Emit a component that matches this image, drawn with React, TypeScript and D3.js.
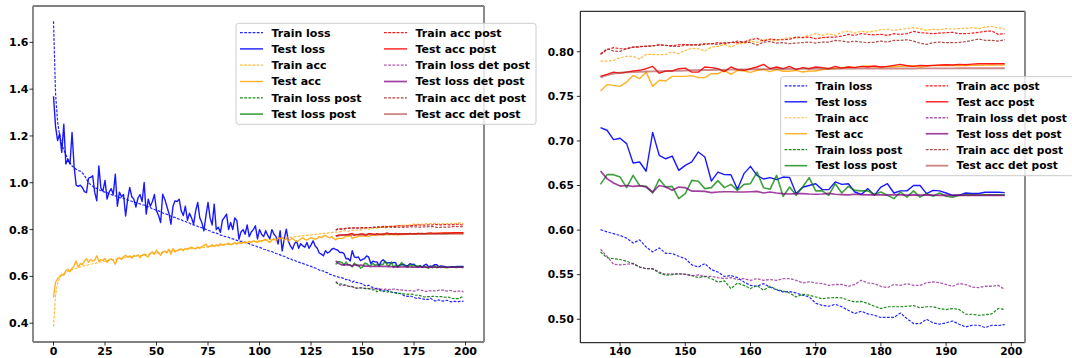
import React from 'react';
import * as d3 from 'd3';

const FONT = "'DejaVu Sans', Verdana, sans-serif";

// ---------- data (epochs 0..136, 137..199 from right panel) ----------
const trainLossEarly = [1.69, 1.38, 1.26, 1.2, 1.165, 1.14, 1.12, 1.1, 1.085, 1.072, 1.065, 1.058, 1.052, 1.05, 1.042, 1.032, 1.016, 1.001, 0.992, 0.986,
  0.978, 0.976, 0.97, 0.967, 0.962, 0.96, 0.958, 0.952, 0.95, 0.946, 0.944, 0.942, 0.936, 0.935, 0.934, 0.929, 0.927, 0.923, 0.921, 0.917,
  0.915, 0.913, 0.91, 0.905, 0.905, 0.9, 0.897, 0.894, 0.888, 0.886, 0.882, 0.88, 0.876, 0.871, 0.869, 0.865, 0.863, 0.857, 0.853, 0.852,
  0.848, 0.844, 0.842, 0.837, 0.835, 0.83, 0.828, 0.822, 0.82, 0.818, 0.813, 0.81, 0.808, 0.803, 0.801, 0.797, 0.794, 0.789, 0.787, 0.785,
  0.781, 0.776, 0.775, 0.771, 0.768, 0.767, 0.762, 0.76, 0.758, 0.754, 0.752, 0.75, 0.749, 0.745, 0.742, 0.74, 0.735, 0.733, 0.731, 0.726,
  0.724, 0.721, 0.716, 0.715, 0.711, 0.707, 0.706, 0.701, 0.698, 0.696, 0.692, 0.687, 0.686, 0.682, 0.677, 0.676, 0.67, 0.669, 0.664, 0.661,
  0.658, 0.656, 0.651, 0.649, 0.645, 0.643, 0.638, 0.636, 0.632, 0.627, 0.625, 0.623, 0.617, 0.616, 0.61, 0.607, 0.603];
const trainLossLate = [0.6006, 0.598, 0.596, 0.594, 0.591, 0.5855, 0.589, 0.581, 0.5755, 0.58, 0.574, 0.5737, 0.5706, 0.568, 0.561, 0.5586,
  0.5624, 0.5557, 0.553, 0.548, 0.549, 0.5467, 0.5418, 0.538, 0.537, 0.54, 0.536, 0.533, 0.5306, 0.531, 0.5295, 0.527, 0.525, 0.518,
  0.5155, 0.5146, 0.5168, 0.514, 0.51, 0.5064, 0.509, 0.506, 0.5045, 0.502, 0.502, 0.502, 0.507, 0.5007, 0.4952, 0.495, 0.5, 0.496,
  0.4944, 0.496, 0.498, 0.4944, 0.4914, 0.4933, 0.4933, 0.4906, 0.4933, 0.493, 0.494];

const testLossEarly = [1.37, 1.24, 1.18, 1.21, 1.13, 1.25, 1.08, 1.1, 1.08, 1.215, 1.07, 0.99, 0.985, 0.99, 0.98, 0.962, 0.958, 1.02, 1.023, 1.03,
  0.96, 0.923, 1.072, 0.977, 0.965, 1.01, 0.93, 0.96, 0.975, 0.95, 1.037, 0.9, 0.96, 0.94, 0.95, 0.858, 0.93, 0.98, 0.94, 0.93,
  0.896, 0.935, 0.95, 0.92, 1.001, 0.866, 0.93, 0.9, 0.92, 0.95, 0.88, 0.86, 0.83, 0.951, 0.93, 0.9, 0.87, 0.823, 0.9, 0.923,
  0.92, 0.93, 0.88, 0.86, 0.9, 0.84, 0.87, 0.85, 0.823, 0.88, 0.916, 0.85, 0.83, 0.795, 0.86, 0.916, 0.85, 0.82, 0.909, 0.8,
  0.81, 0.788, 0.84, 0.852, 0.866, 0.8, 0.83, 0.8, 0.85, 0.838, 0.759, 0.79, 0.8, 0.78, 0.82, 0.77, 0.79, 0.8, 0.816, 0.76,
  0.8, 0.78, 0.77, 0.795, 0.775, 0.76, 0.8, 0.78, 0.77, 0.738, 0.795, 0.709, 0.76, 0.802, 0.75, 0.73, 0.716, 0.74, 0.75, 0.72,
  0.74, 0.73, 0.725, 0.745, 0.72, 0.735, 0.752, 0.73, 0.72, 0.7, 0.695, 0.688, 0.71, 0.7, 0.705, 0.716, 0.72];
const testLossLate = [0.715, 0.712, 0.7015, 0.703, 0.697, 0.6752, 0.6764, 0.666, 0.7096, 0.6839, 0.68, 0.683, 0.667, 0.6726, 0.6764, 0.6876,
  0.682, 0.655, 0.6651, 0.6622, 0.662, 0.6457, 0.6633, 0.6715, 0.6614, 0.6573, 0.6588, 0.6566, 0.6595, 0.659, 0.641, 0.648, 0.65, 0.652,
  0.6454, 0.6454, 0.654, 0.6513, 0.652, 0.6427, 0.64, 0.6465, 0.639, 0.6483, 0.652, 0.6416, 0.644, 0.644, 0.65, 0.65, 0.6409, 0.6446,
  0.644, 0.6416, 0.639, 0.639, 0.6416, 0.641, 0.641, 0.6424, 0.6424, 0.6424, 0.642];

const trainAccEarly = [0.385, 0.52, 0.57, 0.593, 0.603, 0.611, 0.616, 0.622, 0.625, 0.628, 0.633, 0.635, 0.638, 0.64, 0.643, 0.646, 0.647, 0.65, 0.652, 0.654,
  0.655, 0.658, 0.66, 0.662, 0.663, 0.664, 0.667, 0.668, 0.67, 0.671, 0.673, 0.675, 0.675, 0.678, 0.679, 0.68, 0.682, 0.683, 0.685, 0.685,
  0.687, 0.689, 0.689, 0.69, 0.692, 0.694, 0.694, 0.696, 0.697, 0.698, 0.699, 0.7, 0.702, 0.702, 0.704, 0.705, 0.706, 0.708, 0.708, 0.71,
  0.711, 0.712, 0.712, 0.714, 0.716, 0.716, 0.718, 0.718, 0.72, 0.72, 0.722, 0.722, 0.724, 0.724, 0.726, 0.726, 0.727, 0.729, 0.729, 0.731,
  0.731, 0.733, 0.733, 0.735, 0.735, 0.737, 0.737, 0.739, 0.739, 0.741, 0.742, 0.742, 0.744, 0.744, 0.746, 0.747, 0.747, 0.749, 0.75, 0.75,
  0.752, 0.753, 0.754, 0.754, 0.757, 0.757, 0.759, 0.759, 0.761, 0.761, 0.763, 0.763, 0.765, 0.765, 0.767, 0.767, 0.769, 0.769, 0.771, 0.771,
  0.773, 0.773, 0.775, 0.775, 0.777, 0.777, 0.779, 0.779, 0.781, 0.781, 0.783, 0.783, 0.785, 0.785, 0.787, 0.787, 0.789];
const trainAccLate = [0.7896, 0.7896, 0.7904, 0.7934, 0.7948, 0.795, 0.7918, 0.797, 0.797, 0.7967, 0.797, 0.7997, 0.7979, 0.8016, 0.8038, 0.8034,
  0.8008, 0.8053, 0.806, 0.8083, 0.8053, 0.809, 0.8094, 0.812, 0.8105, 0.8135, 0.8135, 0.8127, 0.8146, 0.8158, 0.8154, 0.8165, 0.8184, 0.8203,
  0.8184, 0.8203, 0.8184, 0.822, 0.8232, 0.821, 0.823, 0.822, 0.823, 0.8248, 0.8255, 0.824, 0.8252, 0.826, 0.827, 0.826, 0.824, 0.8252,
  0.8248, 0.826, 0.8255, 0.826, 0.8263, 0.827, 0.826, 0.8277, 0.8285, 0.827, 0.8255];

const testAccEarly = [0.51, 0.575, 0.59, 0.6, 0.609, 0.605, 0.625, 0.63, 0.62, 0.635, 0.645, 0.666, 0.64, 0.655, 0.65, 0.665, 0.676, 0.66, 0.673, 0.665,
  0.67, 0.688, 0.665, 0.672, 0.668, 0.676, 0.66, 0.672, 0.675, 0.668, 0.652, 0.675, 0.68, 0.672, 0.685, 0.69, 0.682, 0.688, 0.678, 0.69,
  0.686, 0.692, 0.68, 0.69, 0.695, 0.688, 0.683, 0.698, 0.705, 0.695, 0.712, 0.7, 0.69, 0.705, 0.708, 0.7, 0.716, 0.695, 0.719, 0.705,
  0.71, 0.715, 0.718, 0.71, 0.72, 0.716, 0.722, 0.725, 0.72, 0.718, 0.726, 0.72, 0.728, 0.733, 0.738, 0.725, 0.73, 0.735, 0.728, 0.735,
  0.73, 0.74, 0.733, 0.738, 0.738, 0.742, 0.735, 0.74, 0.745, 0.738, 0.745, 0.74, 0.745, 0.748, 0.742, 0.75, 0.745, 0.752, 0.748, 0.745,
  0.752, 0.75, 0.755, 0.759, 0.75, 0.745, 0.755, 0.76, 0.752, 0.766, 0.76, 0.766, 0.755, 0.762, 0.752, 0.758, 0.762, 0.755, 0.75, 0.752,
  0.76, 0.765, 0.758, 0.755, 0.76, 0.765, 0.762, 0.758, 0.762, 0.77, 0.765, 0.772, 0.776, 0.768, 0.765, 0.77, 0.762];
const testAccLate = [0.756, 0.7631, 0.7623, 0.7612, 0.766, 0.7735, 0.7698, 0.7772, 0.7612, 0.768, 0.7672, 0.7724, 0.7724, 0.7724, 0.7732, 0.771,
  0.771, 0.7754, 0.7754, 0.7792, 0.7746, 0.7792, 0.7784, 0.7769, 0.7792, 0.78, 0.7777, 0.78, 0.7781, 0.7781, 0.7792, 0.7773, 0.7784, 0.7784,
  0.78, 0.7805, 0.7815, 0.782, 0.7829, 0.7825, 0.7835, 0.784, 0.7832, 0.7829, 0.7835, 0.7832, 0.7838, 0.784, 0.7843, 0.7829, 0.7838, 0.7848,
  0.7845, 0.7848, 0.7846, 0.7848, 0.7846, 0.785, 0.7848, 0.785, 0.7852, 0.785, 0.785];

// post-training series, epochs 137..199
const trainLossPost = [0.5755, 0.569, 0.568, 0.567, 0.565, 0.5624, 0.5586, 0.5568, 0.5565, 0.552, 0.5493, 0.55, 0.551, 0.5505, 0.549, 0.5467,
  0.548, 0.5456, 0.5418, 0.543, 0.5344, 0.5407, 0.538, 0.5344, 0.538, 0.5325, 0.537, 0.5333, 0.5317, 0.5295, 0.525, 0.528, 0.527, 0.525,
  0.523, 0.524, 0.5243, 0.524, 0.5213, 0.5194, 0.52, 0.5176, 0.5146, 0.512, 0.514, 0.514, 0.514, 0.5146, 0.5153, 0.513, 0.514, 0.514,
  0.512, 0.5109, 0.512, 0.511, 0.5056, 0.5056, 0.5045, 0.505, 0.506, 0.512, 0.511];
const testLossPost = [0.6513, 0.6622, 0.6622, 0.6595, 0.6476, 0.6614, 0.65, 0.649, 0.6416, 0.657, 0.6483, 0.649, 0.6353, 0.6409, 0.6558, 0.6547,
  0.6465, 0.6476, 0.6555, 0.6476, 0.6513, 0.6446, 0.6513, 0.652, 0.6651, 0.6476, 0.6457, 0.6614, 0.6379, 0.6483, 0.639, 0.6483, 0.6589, 0.644,
  0.644, 0.639, 0.652, 0.6416, 0.649, 0.6446, 0.644, 0.644, 0.64, 0.6427, 0.639, 0.6353, 0.6427, 0.637, 0.644, 0.637, 0.6409, 0.6379,
  0.6416, 0.638, 0.637, 0.639, 0.6395, 0.6398, 0.6392, 0.6396, 0.6395, 0.6397, 0.6395];
const trainAccPost = [0.797, 0.8023, 0.8046, 0.8034, 0.8034, 0.8053, 0.8053, 0.8064, 0.8064, 0.8079, 0.8072, 0.8068, 0.8079, 0.8083, 0.8075, 0.8083,
  0.809, 0.809, 0.8102, 0.809, 0.8105, 0.8102, 0.8109, 0.8135, 0.815, 0.812, 0.8143, 0.8135, 0.8135, 0.8139, 0.8165, 0.8158, 0.8165, 0.8146,
  0.8158, 0.8165, 0.8165, 0.8176, 0.8195, 0.8184, 0.8203, 0.8195, 0.819, 0.8195, 0.8184, 0.8203, 0.8195, 0.8203, 0.8229, 0.8214, 0.821, 0.8203,
  0.821, 0.8214, 0.8218, 0.8203, 0.8203, 0.821, 0.8218, 0.8229, 0.8233, 0.8195, 0.8203];
const testAccPost = [0.7724, 0.7747, 0.7772, 0.776, 0.7772, 0.7784, 0.7792, 0.781, 0.7836, 0.776, 0.7784, 0.7784, 0.781, 0.7817, 0.7772, 0.7772,
  0.7829, 0.7822, 0.781, 0.7777, 0.7829, 0.78, 0.7792, 0.781, 0.7829, 0.7859, 0.781, 0.7829, 0.781, 0.7836, 0.78, 0.7822, 0.781, 0.7829,
  0.7822, 0.781, 0.7836, 0.7817, 0.7829, 0.7822, 0.7836, 0.7829, 0.784, 0.7829, 0.7836, 0.7848, 0.7859, 0.7843, 0.7836, 0.7848, 0.7843, 0.7848,
  0.7852, 0.7855, 0.7852, 0.7859, 0.7855, 0.7862, 0.7866, 0.7866, 0.7866, 0.7866, 0.7866];
const trainLossDet = [0.5785, 0.5706, 0.5617, 0.561, 0.5617, 0.5624, 0.5586, 0.5568, 0.5568, 0.553, 0.5504, 0.551, 0.551, 0.5504, 0.549, 0.5497,
  0.548, 0.548, 0.5467, 0.5456, 0.5467, 0.5445, 0.5456, 0.5437, 0.5456, 0.5437, 0.5445, 0.5437, 0.5456, 0.5456, 0.5437, 0.5407, 0.542, 0.5407,
  0.54, 0.538, 0.539, 0.539, 0.537, 0.539, 0.5437, 0.5407, 0.54, 0.537, 0.5355, 0.539, 0.538, 0.54, 0.538, 0.538, 0.541, 0.5418,
  0.541, 0.539, 0.537, 0.54, 0.539, 0.536, 0.5355, 0.537, 0.537, 0.538, 0.5333];
const testLossDet = [0.6663, 0.6577, 0.6528, 0.6494, 0.65, 0.649, 0.6497, 0.6483, 0.6427, 0.65, 0.6483, 0.6446, 0.6483, 0.6476, 0.6438, 0.6438,
  0.6434, 0.642, 0.6427, 0.643, 0.643, 0.6427, 0.6427, 0.643, 0.6434, 0.6416, 0.6427, 0.6416, 0.6409, 0.6405, 0.6409, 0.641, 0.6405, 0.6402,
  0.6405, 0.6412, 0.6402, 0.6398, 0.6395, 0.6402, 0.6398, 0.6395, 0.6398, 0.6395, 0.6392, 0.6398, 0.6395, 0.6392, 0.6395, 0.6392, 0.6395, 0.6392,
  0.639, 0.6392, 0.639, 0.6392, 0.639, 0.6392, 0.639, 0.639, 0.6392, 0.639, 0.639];
const trainAccDet = [0.7979, 0.8034, 0.8008, 0.8004, 0.8034, 0.8053, 0.806, 0.806, 0.8068, 0.8075, 0.8072, 0.806, 0.806, 0.8072, 0.8079, 0.8072,
  0.8083, 0.809, 0.8083, 0.8102, 0.8102, 0.812, 0.8109, 0.8102, 0.8075, 0.8109, 0.8116, 0.8098, 0.8102, 0.809, 0.8098, 0.8102, 0.8109, 0.8098,
  0.8109, 0.8109, 0.8128, 0.812, 0.8109, 0.812, 0.8109, 0.8102, 0.8109, 0.812, 0.8109, 0.8128, 0.8128, 0.8135, 0.812, 0.8098, 0.8083, 0.8102,
  0.8109, 0.8102, 0.8102, 0.8105, 0.8113, 0.8128, 0.8143, 0.8128, 0.8128, 0.812, 0.8135];
const testAccDet = [0.7712, 0.7738, 0.7755, 0.7764, 0.777, 0.7772, 0.7775, 0.7778, 0.778, 0.7782, 0.7783, 0.7786, 0.7788, 0.779, 0.7792, 0.7793,
  0.7795, 0.7796, 0.7797, 0.7799, 0.78, 0.7801, 0.7802, 0.7803, 0.7804, 0.7805, 0.7805, 0.7806, 0.7807, 0.7807, 0.7808, 0.7808, 0.7809, 0.7809,
  0.781, 0.781, 0.781, 0.7811, 0.7811, 0.7811, 0.7812, 0.7812, 0.7812, 0.7812, 0.7813, 0.7813, 0.7813, 0.7813, 0.7813, 0.7814, 0.7814, 0.7814,
  0.7814, 0.7814, 0.7814, 0.7815, 0.7815, 0.7815, 0.7815, 0.7815, 0.7815, 0.7815, 0.7815];

const POST_START = 137;
const leftXTicks = [0, 25, 50, 75, 100, 125, 150, 175, 200];
const leftYTicks = [0.4, 0.6, 0.8, 1.0, 1.2, 1.4, 1.6];
const rightXTicks = [140, 150, 160, 170, 180, 190, 200];
const rightYTicks = [0.5, 0.55, 0.6, 0.65, 0.7, 0.75, 0.8];

type Series = { label: string; values: number[]; start: number; color: string; dash: boolean; width: number; opacity: number };

const SERIES: Series[] = [
  { label: 'Train loss', values: [...trainLossEarly, ...trainLossLate], start: 0, color: 'blue', dash: true, width: 1.2, opacity: 0.85 },
  { label: 'Test loss', values: [...testLossEarly, ...testLossLate], start: 0, color: 'blue', dash: false, width: 1.4, opacity: 0.9 },
  { label: 'Train acc', values: [...trainAccEarly, ...trainAccLate], start: 0, color: 'orange', dash: true, width: 1.2, opacity: 0.75 },
  { label: 'Test acc', values: [...testAccEarly, ...testAccLate], start: 0, color: 'orange', dash: false, width: 1.4, opacity: 0.85 },
  { label: 'Train loss post', values: trainLossPost, start: POST_START, color: 'green', dash: true, width: 1.2, opacity: 0.9 },
  { label: 'Test loss post', values: testLossPost, start: POST_START, color: 'green', dash: false, width: 1.6, opacity: 0.75 },
  { label: 'Train acc post', values: trainAccPost, start: POST_START, color: 'red', dash: true, width: 1.2, opacity: 0.9 },
  { label: 'Test acc post', values: testAccPost, start: POST_START, color: 'red', dash: false, width: 1.4, opacity: 0.9 },
  { label: 'Train loss det post', values: trainLossDet, start: POST_START, color: 'purple', dash: true, width: 1.3, opacity: 0.65 },
  { label: 'Test loss det post', values: testLossDet, start: POST_START, color: 'purple', dash: false, width: 1.7, opacity: 0.75 },
  { label: 'Train acc det post', values: trainAccDet, start: POST_START, color: 'brown', dash: true, width: 1.2, opacity: 0.85 },
  { label: 'Test acc det post', values: testAccDet, start: POST_START, color: 'brown', dash: false, width: 1.9, opacity: 0.55 },
];

type PanelProps = {
  left: number; right: number; top: number; bottom: number;
  minEpoch: number; xTicks: number[]; yTicks: number[]; yFmt: string;
  fontSize: number; legendX: number; legendY: number; legendScale: number;
  leftSpineGray: boolean; labelPad: number;
};

function Panel(p: PanelProps) {
  const pts = SERIES.map((s) =>
    s.values.map((v, i) => ({ e: s.start + i, v })).filter((d) => d.e >= p.minEpoch)
  );
  const all = pts.flat();
  const [ex0, ex1] = d3.extent(all, (d) => d.e) as [number, number];
  const [vy0, vy1] = d3.extent(all, (d) => d.v) as [number, number];
  const mx = (ex1 - ex0) * 0.05;
  const my = (vy1 - vy0) * 0.05;
  const x = d3.scaleLinear().domain([ex0 - mx, ex1 + mx]).range([p.left, p.right]);
  const y = d3.scaleLinear().domain([vy0 - my, vy1 + my]).range([p.bottom, p.top]);
  const line = d3.line<{ e: number; v: number }>().x((d) => x(d.e)).y((d) => y(d.v));
  const fmt = d3.format(p.yFmt);
  const fs = p.fontSize;
  const ls = p.legendScale;
  const lw = 300 * ls;
  const lh = 101 * ls;
  const rowH = 16.3 * ls;
  const gray = '#8a8a8a';
  return (
    <g>
      <defs>
        <clipPath id={`clip-${p.left}`}>
          <rect x={p.left} y={p.top} width={p.right - p.left} height={p.bottom - p.top} />
        </clipPath>
      </defs>
      <g clipPath={`url(#clip-${p.left})`}>
        {SERIES.map((s, k) => (
          <path key={s.label} d={line(pts[k]) || ''} fill="none" stroke={s.color} strokeWidth={s.width}
            strokeOpacity={s.opacity} strokeDasharray={s.dash ? '2.8,1.4' : undefined} strokeLinejoin="round" />
        ))}
      </g>
      {/* spines */}
      <line x1={p.left} x2={p.right} y1={p.top} y2={p.top} stroke="black" strokeWidth={1} />
      <line x1={p.left} x2={p.right} y1={p.bottom} y2={p.bottom} stroke="black" strokeWidth={1} />
      <line x1={p.left} x2={p.left} y1={p.top} y2={p.bottom} stroke={p.leftSpineGray ? gray : 'black'} strokeWidth={p.leftSpineGray ? 2 : 1} />
      <line x1={p.right} x2={p.right} y1={p.top} y2={p.bottom} stroke={gray} strokeWidth={2} />
      {/* ticks */}
      {p.xTicks.map((t) => (
        <g key={'x' + t}>
          <line x1={x(t)} x2={x(t)} y1={p.bottom} y2={p.bottom + 3.5} stroke="black" strokeWidth={0.8} />
          <text x={x(t)} y={p.bottom + 4.5 + fs * 0.76} textAnchor="middle" fontFamily={FONT} fontWeight="bold" fontSize={fs}>{t}</text>
        </g>
      ))}
      {p.yTicks.map((t) => (
        <g key={'y' + t}>
          <line x1={p.left - 3.5} x2={p.left} y1={y(t)} y2={y(t)} stroke="black" strokeWidth={0.8} />
          <text x={p.left - p.labelPad} y={y(t)} dy="0.36em" textAnchor="end" fontFamily={FONT} fontWeight="bold" fontSize={fs}>{fmt(t)}</text>
        </g>
      ))}
      {/* legend */}
      <g transform={`translate(${p.legendX},${p.legendY})`}>
        <rect x={0} y={0} width={lw} height={lh} rx={2.5} fill="white" fillOpacity={0.8} stroke="#cccccc" strokeWidth={1} />
        {SERIES.map((s, k) => {
          const col = Math.floor(k / 6);
          const row = k % 6;
          const hx = (col === 0 ? 4 : 148) * ls;
          const ry = 9.3 * ls + row * rowH;
          return (
            <g key={s.label}>
              <line x1={hx} x2={hx + 23 * ls} y1={ry} y2={ry} stroke={s.color} strokeWidth={s.width}
                strokeOpacity={s.opacity} strokeDasharray={s.dash ? '2.8,1.4' : undefined} />
              <text x={hx + 31.5 * ls} y={ry} dy="0.36em" fontFamily={FONT} fontWeight="bold" fontSize={fs}>{s.label}</text>
            </g>
          );
        })}
      </g>
    </g>
  );
}

export default function App() {
  return (
    <svg width={1072} height={358} style={{ position: 'absolute', left: 0, top: 0, background: 'white' }}>
      <rect x={0} y={0} width={1072} height={358} fill="white" />
      <Panel left={33} right={484} top={6} bottom={342} minEpoch={0} xTicks={leftXTicks} yTicks={leftYTicks}
        yFmt=".1f" fontSize={11} legendX={236} legendY={23.3} legendScale={1} leftSpineGray={true} labelPad={4.5} />
      <Panel left={580.3} right={1025} top={11.3} bottom={342.7} minEpoch={POST_START} xTicks={rightXTicks} yTicks={rightYTicks}
        yFmt=".2f" fontSize={10.6} legendX={780.7} legendY={76.7} legendScale={0.98} leftSpineGray={false} labelPad={6.5} />
    </svg>
  );
}
